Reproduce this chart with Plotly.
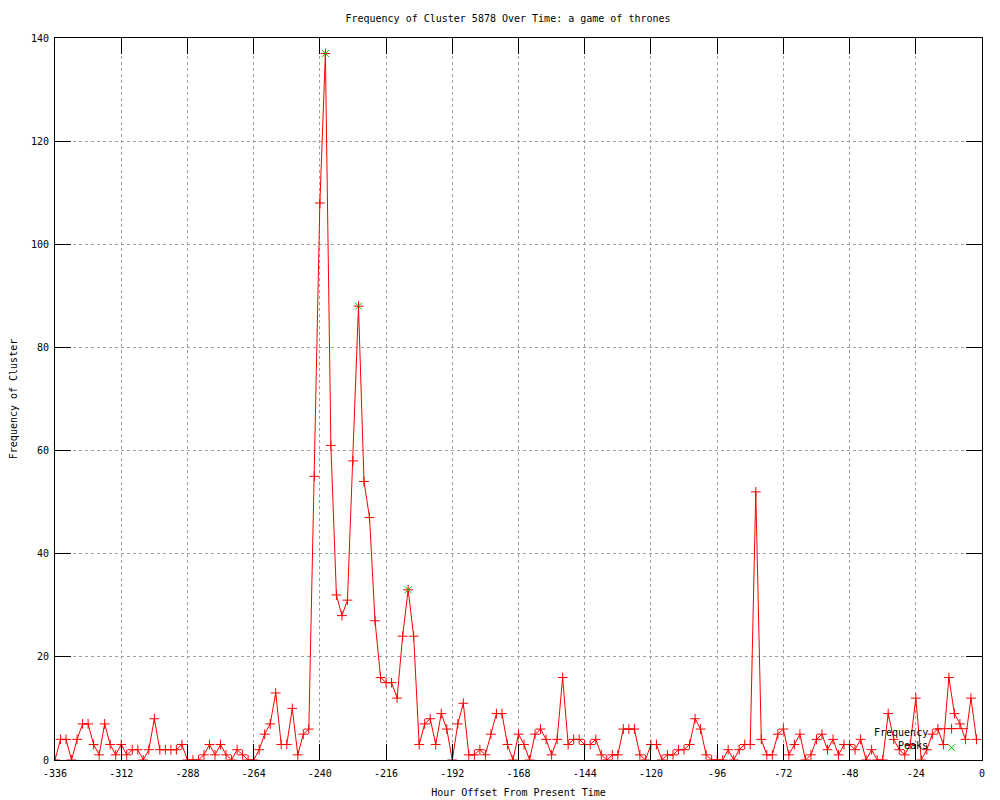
import plotly.graph_objects as go

hours = list(range(-336, 0, 2))
frequency = [
    0, 4, 4, 0, 4, 7, 7, 3, 1, 7, 3, 1, 3, 1, 2, 2, 0, 2, 8, 2,
    2, 2, 2, 3, 0, 0, 0, 1, 3, 1, 3, 1, 0, 2, 1, 0, 0, 2, 5, 7,
    13, 3, 3, 10, 1, 5, 6, 55, 108, 137, 61, 32, 28, 31, 58, 88, 54, 47, 27, 16,
    15, 15, 12, 24, 33, 24, 3, 7, 8, 3, 9, 6, 0, 7, 11, 1, 1, 2, 1, 5,
    9, 9, 3, 0, 5, 3, 0, 5, 6, 4, 1, 4, 16, 3, 4, 4, 3, 3, 4, 1,
    0, 1, 1, 6, 6, 6, 1, 0, 3, 3, 0, 1, 1, 2, 2, 3, 8, 6, 1, 0,
    0, 0, 2, 0, 2, 3, 3, 52, 4, 1, 1, 5, 6, 1, 3, 5, 0, 1, 4, 5,
    2, 4, 1, 3, 3, 2, 4, 0, 2, 0, 0, 9, 4, 2, 1, 3, 12, 0, 2, 5,
    6, 3, 16, 9, 7, 4, 12, 4,
]
peak_hours = [-238, -226, -208]
peak_values = [137, 88, 33]

series_names = ["Frequency", "Peaks"]
x_ticks = list(range(-336, 1, 24))
y_ticks = list(range(0, 141, 20))

FONT = "DejaVu Sans Mono"

fig = go.Figure()
fig.add_trace(go.Scatter(
    x=hours, y=frequency, name=" ", mode="lines+markers",
    line=dict(color="#ff0000", width=1),
    marker=dict(symbol="cross-thin", size=7, line=dict(color="#ff0000", width=1), color="#ff0000"),
))
fig.add_trace(go.Scatter(
    x=peak_hours, y=peak_values, name=" ", mode="markers",
    marker=dict(symbol="x-thin", size=7, line=dict(color="#00c000", width=1), color="#00c000"),
))

axis_common = dict(
    showline=True, linecolor="black", linewidth=1, mirror="ticks",
    ticks="inside", ticklen=16, tickcolor="black", tickwidth=1,
    showgrid=True, gridcolor="#a0a0a0", griddash="dot", gridwidth=1,
    zeroline=False, automargin=False,
    tickfont=dict(family=FONT, size=10, color="black"),
)

fig.update_layout(
    width=1000, height=800,
    paper_bgcolor="white", plot_bgcolor="white",
    margin=dict(l=47, r=26, t=30, b=48),
    font=dict(family=FONT, size=10, color="black"),
    title=dict(text="Frequency of Cluster 5878 Over Time: a game of thrones",
               x=0.5, xanchor="center", y=0.9875, yanchor="middle",
               font=dict(family=FONT, size=10, color="black")),
    xaxis=dict(range=[-336, 0], tickvals=x_ticks, ticktext=[str(v) for v in x_ticks],
               ticklabelstandoff=4,
               title=dict(text="Hour Offset From Present Time", standoff=10,
                          font=dict(family=FONT, size=10)),
               **axis_common),
    yaxis=dict(range=[0, 140], tickvals=y_ticks, ticktext=[str(v) for v in y_ticks],
               ticklabelstandoff=3,
               title=dict(text="Frequency of Cluster", standoff=14,
                          font=dict(family=FONT, size=10)),
               **axis_common),
    legend=dict(x=0.944, y=-0.003, xanchor="left", yanchor="bottom",
                bgcolor="rgba(0,0,0,0)", font=dict(family=FONT, size=8),
                itemwidth=33, tracegroupgap=0),
    showlegend=True,
)

# legend labels, right-aligned to the left of the legend keys (gnuplot style)
fig.add_annotation(text=series_names[0], xref="paper", yref="paper",
                   x=0.944, y=0.0374, xanchor="right", yanchor="middle",
                   showarrow=False, font=dict(family=FONT, size=10, color="black"))
fig.add_annotation(text=series_names[1], xref="paper", yref="paper",
                   x=0.944, y=0.0194, xanchor="right", yanchor="middle",
                   showarrow=False, font=dict(family=FONT, size=10, color="black"))

fig.write_html("out.html")
